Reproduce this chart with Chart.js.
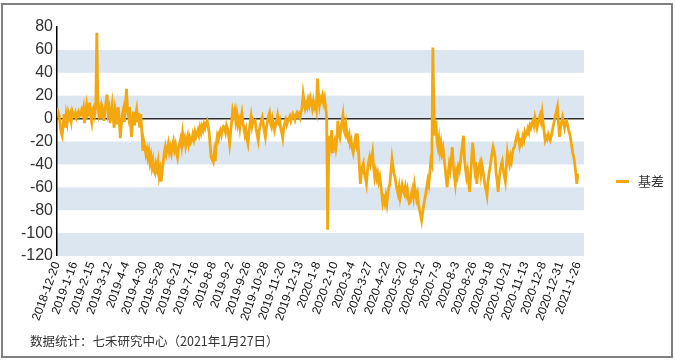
<!DOCTYPE html>
<html><head><meta charset="utf-8">
<script src="https://cdn.jsdelivr.net/npm/chart.js@4/dist/chart.umd.min.js"></script>
<style>html,body{margin:0;padding:0;background:#fff;}#wrap{width:675px;height:361px;}</style>
</head><body><div id="wrap"><canvas id="c" width="675" height="361"></canvas></div>
<script>
const tickLabels = ['2018-12-20','2019-1-16','2019-2-15','2019-3-12','2019-4-4','2019-4-30','2019-5-28','2019-6-21','2019-7-16','2019-8-8','2019-9-2','2019-9-26','2019-10-28','2019-11-20','2019-12-13','2020-1-8','2020-2-10','2020-3-4','2020-3-27','2020-4-22','2020-5-20','2020-6-12','2020-7-9','2020-8-3','2020-8-26','2020-9-18','2020-10-21','2020-11-13','2020-12-8','2020-12-31','2021-1-26'];
const tickStep = 17;
const seriesName = '基差';
const sourceNote = '数据统计：七禾研究中心（2021年1月27日）';
const yMin = -120, yMax = 80, yStep = 20;
const basis = [
9,6,3,-4,-12,-15,-6,4,-8,3,
-3,5,1,4,-2,6,3,2,5,1,
4,6,2,3,7,4,9,-4,6,12,
3,5,14,2,-3,8,10,4,11,75,
12,4,8,0,10,6,-2,8,14,21,
5,9,-4,5,12,0,-8,8,3,-5,
10,-2,-17,-6,4,8,-3,12,26,8,
2,10,-4,-16,-2,6,-6,3,8,-3,
5,-8,4,-10,
-28,-20,-25,-31,-27,-34,-29,-38,-33,-42,
-37,-46,-48,-40,-44,-38,-50,-45,-55,-46,
-38,-30,-25,
-31,-27,-22,-29,-25,-30,-24,-20,-27,-23,
-30,-34,-26,-22,-18,-24,-13,-20,-17,-24,
-19,-15,-22,-17,-21,-19,-14,-18,-12,-16,
-13,-10,-14,-8,-12,-7,-10,-5,-8,-4,
-2,-7,-12,-24,-34,-36,-38,-30,-37,-22,
-15,-18,-12,-10,-14,-9,-7,-8,-12,-6,
-9,-15,-22,-12,-3,7,
3,7,-2,4,-5,-1,-8,0,5,-4,
-8,-14,-10,-18,-22,-12,-4,2,-6,-1,
-3,-2,-9,-14,-19,-10,-6,-2,1,-5,
-11,-16,-8,-3,2,5,-4,-7,0,-4,
-10,-6,-2,3,-3,-1,-8,-12,-17,-8,
-4,-1,-5,-2,0,2,-2,1,4,2,
-1,3,5,2,4,1,6,10,21,14,
9,13,10,16,12,18,14,9,15,10,
13,8,
35,22,12,18,16,20,14,18,10,2,-97,
-30,-15,-22,-10,-30,-24,-20,-26,-19,-2,
-12,-16,-8,-3,3,-10,-13,-6,-15,-18,
-14,-22,-19,-26,-30,-24,-18,-22,-13,-25,
-40,-57,-48,-42,-39,
-48,-52,-57,-45,-38,-34,-40,-36,-30,-42,
-51,-46,-52,-48,-55,-51,-58,-66,-74,-70,
-74,-68,-74,-65,-60,-57,-45,-35,-42,-48,
-51,-58,-62,-66,-60,-69,-64,-58,-62,-65,
-60,-66,-62,-70,-74,
-73,-66,-62,-68,-58,-64,-70,-66,-75,-80,
-84,-89,-82,-76,-71,-66,-60,-54,-58,-48,
-37,-40,62,
10,-15,-2,-20,-25,-18,-28,-22,-30,-26,
-35,-42,-52,-60,-48,-40,-45,-36,-25,-40,
-50,-57,-46,-50,-42,-45,-38,-30,-22,-15,
-35,-44,-51,-46,-55,-64,-50,-35,-21,-32,
-44,-38,-57,-48,-42,-39,-48,-40,-45,-52,
-58,-62,-67,-55,-48,-43,-36,-30,-25,-29,
-34,-48,
-55,-64,-52,-45,-40,-37,-45,-50,-55,-42,
-30,-36,-40,-33,-37,-30,-26,-25,-20,-16,
-13,-18,-24,-20,-22,-16,-19,-12,-15,-13,
-9,-12,-6,-8,-4,-2,-6,1,-3,-8,
-4,0,3,-2,5,-4,-12,-19,-16,-18,
-14,-17,-19,-15,-10,-6,-2,3,6,10,
-4,-16,-8,-3,1,-4,-8,-3,-2,-6,
-10,-13,-18,-24,-30,-34,-40,-48,-57,-48
];

const lineColor = '#F3A80F';
const bandColor = '#DCE6F1';

const decorPlugin = {
  id: 'decor',
  beforeDraw(chart) {
    const ctx = chart.ctx, a = chart.chartArea, y = chart.scales.y;
    ctx.save();
    ctx.fillStyle = '#fff';
    ctx.fillRect(0, 0, chart.width, chart.height);
    ctx.fillStyle = bandColor;
    for (let v = yMin, k = 0; v < yMax; v += yStep, k++) {
      if (k % 2 === 0) {
        const t = y.getPixelForValue(v + yStep), b = y.getPixelForValue(v);
        ctx.fillRect(a.left, t, a.right - a.left, b - t);
      }
    }
    ctx.restore();
  },
  afterDraw(chart) {
    const ctx = chart.ctx, a = chart.chartArea, xs = chart.scales.x;
    ctx.save();
    const ly = Math.round((a.top + xs.bottom) / 2) - 0.5;
    ctx.strokeStyle = lineColor; ctx.lineWidth = 3;
    ctx.beginPath(); ctx.moveTo(a.right + 32, ly); ctx.lineTo(a.right + 45, ly); ctx.stroke();
    ctx.fillStyle = '#333';
    ctx.font = '13px "Noto Sans CJK SC"';
    ctx.textBaseline = 'middle';
    ctx.fillText(seriesName, a.right + 54, ly);
    ctx.font = '12.5px "Noto Sans CJK SC"';
    ctx.fillStyle = '#333';
    ctx.fillText(sourceNote, 30, 341);
    ctx.strokeStyle = '#808080'; ctx.lineWidth = 2;
    ctx.strokeRect(2, 4, 670, 353);
    ctx.restore();
  }
};

new Chart(document.getElementById('c'), {
  type: 'line',
  data: {
    datasets: [{
      label: seriesName,
      data: basis.map((v, i) => ({ x: i, y: v })),
      borderColor: lineColor,
      borderWidth: 2.8,
      pointRadius: 0,
      tension: 0,
      fill: false
    }]
  },
  options: {
    responsive: false,
    animation: false,
    devicePixelRatio: 1,
    layout: { padding: { left: 0, right: 91, top: 27, bottom: 25 } },
    plugins: { legend: { display: false }, tooltip: { enabled: false }, title: { display: false } },
    scales: {
      x: {
        type: 'linear',
        min: 0,
        max: 516,
        afterBuildTicks(scale) { scale.ticks = tickLabels.map((_, k) => ({ value: k * tickStep })); },
        afterFit(scale) { scale.height = 80; },
        ticks: {
          autoSkip: false,
          minRotation: 70,
          maxRotation: 70,
          padding: 4,
          color: '#111',
          font: { family: '"Liberation Sans", Arial', size: 12 },
          callback: (value) => tickLabels[Math.round(value / tickStep)]
        },
        grid: { display: false, drawTicks: false },
        border: { display: false }
      },
      y: {
        min: yMin,
        max: yMax,
        afterFit(scale) { scale.width = 57; },
        ticks: {
          stepSize: yStep,
          padding: 4,
          color: '#333',
          font: { family: '"Liberation Sans", Arial', size: 16 }
        },
        grid: {
          drawTicks: false,
          color: (c) => (c.tick && c.tick.value === 0 ? '#333' : 'rgba(0,0,0,0)'),
          lineWidth: (c) => (c.tick && c.tick.value === 0 ? 1.5 : 0)
        },
        border: { display: true, color: '#000', width: 1.5 }
      }
    }
  },
  plugins: [decorPlugin]
});
</script>
</body></html>
